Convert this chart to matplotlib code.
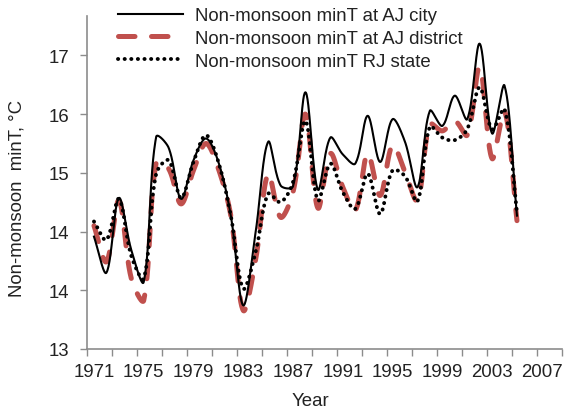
import numpy as np
import matplotlib
matplotlib.use("Agg")
import matplotlib.pyplot as plt

plt.rcParams['font.family'] = ['Liberation Sans', 'DejaVu Sans']

years = list(range(1971, 2006))

city = [14.34, 13.91, 14.80, 14.18, 13.80, 15.53, 15.40, 14.79, 15.25, 15.51,
        15.23, 14.59, 13.52, 14.40, 15.47, 14.95, 14.94, 16.06, 14.90, 15.52,
        15.32, 15.21, 15.78, 15.23, 15.74, 15.47, 14.93, 15.84, 15.66, 16.02,
        15.74, 16.64, 15.57, 16.14, 14.59]

district = [14.47, 14.04, 14.77, 13.84, 13.58, 15.22, 15.15, 14.73, 15.13, 15.45,
            15.15, 14.59, 13.46, 14.07, 15.09, 14.57, 14.87, 15.80, 14.68, 15.33,
            14.93, 14.65, 15.33, 14.83, 15.43, 15.11, 14.77, 15.68, 15.60, 15.72,
            15.55, 16.36, 15.27, 15.84, 14.53]

state = [14.52, 14.30, 14.79, 14.11, 13.84, 15.09, 15.25, 14.80, 15.23, 15.55,
         15.23, 14.59, 13.72, 14.16, 14.85, 14.75, 14.99, 15.72, 14.77, 15.21,
         14.87, 14.67, 15.09, 14.61, 15.13, 15.06, 14.76, 15.65, 15.52, 15.49,
         15.62, 16.12, 15.62, 15.86, 14.63]

labels = ["Non-monsoon minT at AJ city",
          "Non-monsoon minT at AJ district",
          "Non-monsoon minT RJ state"]

ytick_vals = [13, 13.7, 14.4, 15.1, 15.8, 16.5]
ytick_text = ["13", "14", "14", "15", "16", "17"]
xlabel_years = list(range(1971, 2008, 4))

FS = 13.4


def smooth(x, y, n=30, sx=12.44, sy=83.8):
    # bezier through the points, tangents weighted by chord length (screen units)
    x = np.asarray(x, float) * sx
    y = np.asarray(y, float) * sy
    P = np.column_stack([x, y])
    P = np.vstack([P[0], P, P[-1]])
    t = np.linspace(0, 1, n)[:, None]
    out = []
    for i in range(1, len(P) - 2):
        p0, p1, p2, p3 = P[i - 1], P[i], P[i + 1], P[i + 2]
        d0 = np.hypot(*(p1 - p0))
        d1 = np.hypot(*(p2 - p1))
        d2 = np.hypot(*(p3 - p2))
        f1 = d1 / (d0 + d1) / 3 if d0 + d1 > 0 else 0
        f2 = d1 / (d1 + d2) / 3 if d1 + d2 > 0 else 0
        c1 = p1 + (p2 - p0) * f1
        c2 = p2 - (p3 - p1) * f2
        b = (1 - t) ** 3 * p1 + 3 * (1 - t) ** 2 * t * c1 + 3 * (1 - t) * t ** 2 * c2 + t ** 3 * p2
        out.append(b)
    out = np.vstack(out)
    return out[:, 0] / sx, out[:, 1] / sy


fig = plt.figure(figsize=(5.64, 4.14), dpi=100)
ax = fig.add_axes([87 / 564, 1 - 350 / 414, 475 / 564, 333 / 414])

gray = '#8c8c8c'
txt = '#222222'

sx, sy = smooth(years, district)
l2, = ax.plot(sx, sy, color='#C0504D', lw=3.6, ls=(0, (3.3, 3.3)),
              dash_capstyle='round', label=labels[1])
sx, sy = smooth(years, state)
l3, = ax.plot(sx, sy, color='black', lw=2.8, ls=(0, (0.05, 1.65)),
              dash_capstyle='round', label=labels[2])
sx, sy = smooth(years, city)
l1, = ax.plot(sx, sy, color='black', lw=1.5, label=labels[0])

xmin, xmax = 1970.44, 2008.62
ax.set_xlim(xmin, xmax)
ax.set_ylim(13, 16.97)

# tick marks every 2 years, labels every 4 years
ax.set_xticks(np.linspace(xmin, xmax, 20), minor=True)
ax.set_xticks(xlabel_years)
ax.set_xticklabels([str(v) for v in xlabel_years])
ax.tick_params(axis='x', which='major', length=0, pad=10, labelsize=FS, labelcolor=txt)
ax.tick_params(axis='x', which='minor', length=5, width=1, color=gray, direction='out')

ax.set_yticks(ytick_vals)
ax.set_yticklabels(ytick_text)
ax.tick_params(axis='y', length=5, width=1, color=gray, pad=8, labelsize=FS, labelcolor=txt)

for s in ['top', 'right']:
    ax.spines[s].set_visible(False)
for s in ['left', 'bottom']:
    ax.spines[s].set_color(gray)
    ax.spines[s].set_linewidth(1.2)

fig.text(310 / 564, 1 - 402 / 414, "Year", ha='center', va='center', fontsize=FS, color=txt)
fig.text(17 / 564, 1 - 198 / 414, "Non-monsoon  minT, \u00b0C", ha='center', va='center',
         rotation=90, fontsize=FS, color=txt)

fig.legend(handles=[l1, l2, l3], loc='upper left', bbox_to_anchor=(118 / 564, 1 - 8 / 414),
           frameon=False, fontsize=FS, handlelength=3.5, handletextpad=0.65,
           labelspacing=0.32, borderpad=0, borderaxespad=0, labelcolor=txt)

fig.savefig("out.png", dpi=100)
